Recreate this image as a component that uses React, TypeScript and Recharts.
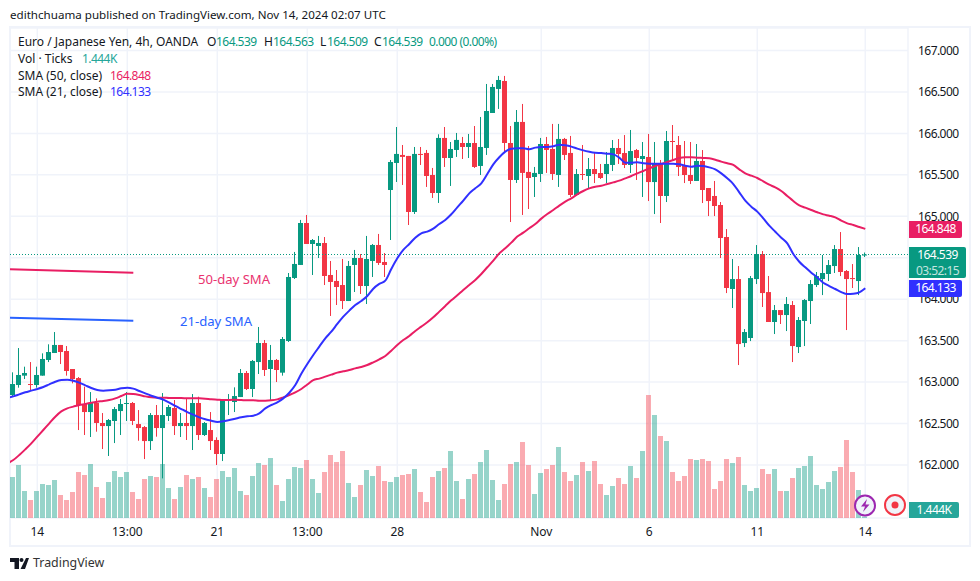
import { Bar, CartesianGrid, ComposedChart, Line, ReferenceLine, XAxis, YAxis } from 'recharts'

const UP = '#089981'
const DOWN = '#f23645'
const SMA50_COLOR = '#e91e63'
const SMA21_COLOR = '#3030ff'
const GRID = '#f0f3fa'
const TEXT = '#131722'
const FONT = '"Noto Sans", sans-serif'
const NUM_SPACING = -0.55

const opens = [
  162.844, 162.965, 163.078, 162.977, 162.965, 163.078, 163.267, 163.351, 163.448, 163.375,
  163.158, 163.049, 162.736, 162.639, 162.748, 162.507, 162.47, 162.531, 162.651, 162.74,
  162.748, 162.494, 162.458, 162.289, 162.603, 162.446, 162.591, 162.688, 162.47, 162.507,
  162.47, 162.748, 162.362, 162.422, 162.302, 162.133, 162.776, 162.76, 162.82, 163.11,
  162.917, 163.242, 163.472, 163.158, 163.267, 163.114, 163.496, 164.256, 164.413, 164.919,
  164.666, 164.642, 164.678, 164.292, 164.22, 164.171, 163.978, 164.413, 164.497, 164.159,
  164.461, 164.654, 164.449, 165.317, 165.643, 165.74, 165.728, 165.052, 165.752, 165.764,
  165.498, 165.281, 165.945, 165.703, 165.8, 165.884, 165.836, 165.884, 165.607, 165.824,
  166.246, 166.536, 166.632, 165.884, 165.438, 166.138, 165.535, 165.474, 165.51, 165.872,
  165.812, 165.498, 165.933, 165.764, 165.257, 165.51, 165.486, 165.57, 165.522, 165.51,
  165.619, 165.824, 165.763, 165.619, 165.799, 165.691, 165.715, 165.413, 165.631, 165.245,
  165.908, 165.86, 165.619, 165.498, 165.426, 165.667, 165.341, 165.245, 165.136, 164.75,
  164.123, 164.243, 163.471, 163.532, 164.243, 164.545, 164.086, 163.725, 163.869, 163.809,
  163.93, 163.423, 163.737, 163.978, 164.171, 164.243, 164.304, 164.4, 164.605, 164.34,
  164.255, 164.219, 164.539,
]
const closes = [
  162.977, 163.086, 163.11, 162.969, 163.086, 163.279, 163.363, 163.448, 163.363, 163.134,
  163.037, 162.724, 162.639, 162.748, 162.507, 162.47, 162.543, 162.675, 162.736, 162.748,
  162.531, 162.446, 162.289, 162.603, 162.446, 162.603, 162.7, 162.47, 162.507, 162.47,
  162.748, 162.362, 162.507, 162.289, 162.133, 162.784, 162.784, 162.832, 163.11, 162.917,
  163.255, 163.472, 163.146, 163.267, 163.146, 163.52, 164.268, 164.425, 164.919, 164.666,
  164.714, 164.678, 164.28, 164.208, 164.147, 163.978, 164.401, 164.497, 164.159, 164.485,
  164.654, 164.437, 164.413, 165.655, 165.752, 165.716, 165.052, 165.752, 165.74, 165.486,
  165.281, 165.945, 165.703, 165.812, 165.921, 165.836, 165.884, 165.595, 165.836, 166.27,
  166.56, 166.644, 165.884, 165.438, 166.138, 165.523, 165.462, 165.523, 165.872, 165.8,
  165.51, 165.933, 165.74, 165.257, 165.51, 165.502, 165.57, 165.51, 165.462, 165.631,
  165.824, 165.751, 165.619, 165.787, 165.703, 165.727, 165.413, 165.631, 165.245, 165.908,
  165.9, 165.594, 165.498, 165.426, 165.667, 165.317, 165.184, 165.124, 164.738, 164.135,
  164.243, 163.459, 163.604, 164.255, 164.545, 164.074, 163.725, 163.869, 163.809, 163.942,
  163.435, 163.749, 163.99, 164.183, 164.279, 164.316, 164.412, 164.605, 164.328, 164.243,
  164.243, 164.533, 164.539,
]
const highs = [
  163.118, 163.411, 163.186, 163.242, 163.186, 163.347, 163.456, 163.604, 163.448, 163.435,
  163.158, 163.061, 162.945, 162.88, 162.804, 162.627, 162.555, 162.7, 162.796, 162.88,
  162.76, 162.663, 162.47, 162.627, 162.724, 162.868, 162.724, 162.784, 162.627, 162.796,
  162.856, 162.824, 162.519, 162.639, 162.334, 162.784, 162.856, 162.937, 163.158, 163.134,
  163.267, 163.665, 163.508, 163.448, 163.279, 163.544, 164.316, 164.57, 164.956, 165.016,
  164.726, 164.763, 164.75, 164.461, 164.352, 164.485, 164.461, 164.594, 164.545, 164.763,
  164.666, 164.787, 164.557, 165.679, 166.077, 165.86, 165.728, 165.836, 165.836, 165.8,
  165.583, 165.989, 166.077, 165.896, 166.005, 165.957, 165.993, 166.089, 166.198, 166.596,
  166.596, 166.693, 166.693, 166.089, 166.282, 166.355, 165.848, 165.595, 165.945, 165.957,
  166.114, 166.114, 165.945, 165.969, 165.57, 165.86, 165.703, 165.775, 165.631, 165.775,
  165.92, 165.932, 165.98, 166.041, 165.812, 165.896, 165.993, 165.896, 165.679, 166.029,
  166.101, 165.968, 165.908, 165.896, 165.872, 165.799, 165.341, 165.426, 165.172, 164.846,
  164.485, 164.4, 163.64, 164.28, 164.653, 164.581, 164.28, 163.93, 163.869, 164.026,
  163.978, 163.785, 164.002, 164.231, 164.328, 164.533, 164.473, 164.653, 164.81, 164.352,
  164.424, 164.629, 164.563,
]
const lows = [
  162.832, 162.933, 163.037, 162.893, 162.933, 163.078, 163.242, 163.351, 163.218, 163.078,
  162.985, 162.422, 162.362, 162.338, 162.402, 162.193, 162.109, 162.265, 162.362, 162.531,
  162.482, 162.293, 162.072, 162.181, 162.342, 161.839, 162.531, 162.362, 162.338, 162.302,
  162.181, 162.302, 162.35, 162.181, 162.0, 162.048, 162.603, 162.639, 162.82, 162.905,
  162.82, 163.098, 163.074, 162.772, 163.001, 163.078, 163.484, 164.244, 164.413, 164.666,
  164.292, 164.497, 164.171, 163.798, 163.93, 163.882, 163.978, 164.087, 164.063, 163.942,
  164.268, 164.413, 164.268, 164.714, 165.414, 165.378, 164.895, 165.028, 165.619, 165.354,
  165.221, 165.161, 165.595, 165.366, 165.716, 165.691, 165.703, 165.583, 165.498, 165.74,
  166.246, 166.295, 165.776, 164.931, 165.402, 165.016, 165.088, 165.233, 165.414, 165.523,
  165.438, 165.354, 165.679, 165.233, 165.245, 165.438, 165.329, 165.401, 165.45, 165.401,
  165.546, 165.631, 165.582, 165.522, 165.438, 165.233, 165.184, 165.027, 164.919, 165.172,
  165.679, 165.486, 165.401, 165.389, 165.426, 165.16, 165.003, 165.003, 164.497, 164.074,
  163.894, 163.206, 163.423, 163.495, 164.183, 163.906, 163.725, 163.58, 163.701, 163.616,
  163.242, 163.351, 163.435, 163.701, 164.147, 164.05, 164.219, 164.316, 164.279, 163.628,
  164.135, 164.05, 164.509,
]
// tick volume in thousands
const volumes = [
  41, 53, 27, 18, 27, 34, 33, 38, 23, 18, 26, 46, 43, 54, 31, 20, 36, 47, 41, 46,
  26, 19, 39, 42, 41, 54, 30, 19, 31, 43, 39, 41, 30, 21, 39, 47, 41, 50, 27, 23,
  42, 55, 53, 60, 33, 17, 39, 51, 50, 58, 39, 25, 46, 63, 56, 67, 35, 21, 33, 48,
  42, 52, 37, 36, 41, 43, 44, 49, 26, 16, 41, 47, 50, 67, 37, 19, 39, 44, 56, 68,
  38, 18, 34, 54, 56, 76, 53, 24, 45, 49, 53, 71, 46, 37, 43, 56, 47, 57, 34, 23,
  32, 40, 34, 52, 40, 67, 123, 103, 82, 77, 46, 37, 42, 59, 58, 59, 57, 29, 37, 59,
  55, 61, 33, 27, 30, 49, 44, 49, 27, 27, 40, 50, 52, 62, 33, 29, 36, 47, 51, 78,
  46, 28, 1.444,
]
const sma50 = [
  162.06, 162.121, 162.189, 162.261, 162.342, 162.422, 162.503, 162.583, 162.647, 162.684,
  162.704, 162.724, 162.736, 162.752, 162.764, 162.772, 162.784, 162.804, 162.832, 162.86,
  162.856, 162.844, 162.828, 162.816, 162.812, 162.812, 162.808, 162.808, 162.808, 162.804,
  162.804, 162.804, 162.8, 162.792, 162.788, 162.784, 162.784, 162.788, 162.784, 162.78,
  162.78, 162.776, 162.776, 162.78, 162.792, 162.816, 162.844, 162.877, 162.917, 162.971,
  163.025, 163.042, 163.066, 163.09, 163.114, 163.13, 163.146, 163.166, 163.182, 163.206,
  163.239, 163.275, 163.315, 163.379, 163.448, 163.508, 163.556, 163.617, 163.669, 163.721,
  163.781, 163.85, 163.918, 163.986, 164.047, 164.111, 164.171, 164.232, 164.304, 164.385,
  164.465, 164.553, 164.614, 164.682, 164.755, 164.803, 164.855, 164.907, 164.972, 165.028,
  165.076, 165.129, 165.177, 165.217, 165.265, 165.305, 165.337, 165.357, 165.369, 165.389,
  165.409, 165.43, 165.458, 165.486, 165.518, 165.546, 165.578, 165.606, 165.631, 165.655,
  165.679, 165.703, 165.711, 165.711, 165.707, 165.703, 165.699, 165.683, 165.659, 165.639,
  165.619, 165.566, 165.518, 165.49, 165.462, 165.422, 165.381, 165.349, 165.305, 165.245,
  165.184, 165.132, 165.104, 165.076, 165.048, 165.023, 165.007, 164.987, 164.947, 164.915,
  164.895, 164.871, 164.848,
]
const sma21 = [
  162.828, 162.852, 162.877, 162.897, 162.917, 162.941, 162.973, 163.005, 163.025, 163.029,
  163.017, 162.993, 162.961, 162.929, 162.905, 162.897, 162.901, 162.909, 162.925, 162.933,
  162.921, 162.893, 162.864, 162.836, 162.812, 162.788, 162.752, 162.712, 162.675, 162.639,
  162.607, 162.575, 162.551, 162.535, 162.519, 162.527, 162.543, 162.559, 162.575, 162.587,
  162.595, 162.623, 162.683, 162.724, 162.756, 162.804, 162.872, 162.965, 163.1, 163.218,
  163.327, 163.428, 163.528, 163.608, 163.701, 163.789, 163.862, 163.93, 163.978, 164.039,
  164.127, 164.184, 164.224, 164.364, 164.493, 164.594, 164.666, 164.742, 164.795, 164.815,
  164.851, 164.907, 164.956, 165.024, 165.108, 165.189, 165.277, 165.338, 165.398, 165.51,
  165.627, 165.712, 165.78, 165.816, 165.82, 165.82, 165.808, 165.828, 165.836, 165.836,
  165.844, 165.864, 165.856, 165.84, 165.816, 165.795, 165.779, 165.767, 165.763, 165.755,
  165.747, 165.707, 165.647, 165.647, 165.651, 165.639, 165.635, 165.635, 165.635, 165.635,
  165.635, 165.627, 165.61, 165.598, 165.61, 165.606, 165.59, 165.566, 165.518, 165.458,
  165.389, 165.289, 165.188, 165.116, 165.056, 164.975, 164.887, 164.814, 164.742, 164.674,
  164.545, 164.452, 164.384, 164.32, 164.263, 164.199, 164.159, 164.123, 164.086, 164.062,
  164.066, 164.083, 164.133,
]
// the averages already run in from the left edge, one bar before the first candle
const sma50Lead = 162.02
const sma21Lead = 162.812

const priceTicks = [162, 162.5, 163, 163.5, 164, 164.5, 165, 165.5, 166, 166.5, 167]
const timeTicks = [4, 19, 34, 49, 64, 88, 106, 124, 142]
const timeLabels = ['14', '13:00', '21', '13:00', '28', 'Nov', '6', '11', '14']

const lastPrice = 164.539
const drawn50 = [164.361, 164.32]
const drawn21 = [163.777, 163.741]

const rows: any[] = [
  { i: -1, sma50: sma50Lead, sma21: sma21Lead },
  ...opens.map((open, i) => ({
    i,
    open,
    close: closes[i],
    high: highs[i],
    low: lows[i],
    range: [lows[i], highs[i]],
    volume: volumes[i],
    sma50: sma50[i],
    sma21: sma21[i],
  })),
]

function Candle(props: any) {
  const { x, y, width, height, payload } = props
  if (!payload || payload.range === undefined) return null
  const color = payload.close >= payload.open ? UP : DOWN
  const perUnit = height / (payload.high - payload.low)
  const cx = Math.round(x + width / 2 - 0.5)
  const bodyTop = y + (payload.high - Math.max(payload.open, payload.close)) * perUnit
  const bodyH = Math.abs(payload.open - payload.close) * perUnit
  return (
    <g>
      <rect x={cx} y={y} width={1} height={height} fill={color} />
      <rect x={cx - 2} y={bodyTop} width={5} height={Math.max(bodyH, 1)} fill={color} />
    </g>
  )
}

function VolumeBar(props: any) {
  const { x, y, width, height, payload } = props
  if (!payload || payload.volume === undefined) return null
  const color = payload.close >= payload.open ? UP : DOWN
  const cx = Math.round(x + width / 2 - 0.5)
  return <rect x={cx - 2} y={y} width={5} height={height} fill={color} opacity={0.42} />
}

function Abs({ left, top, color = TEXT, size = 12, spacing = 0, children }: any) {
  return (
    <div
      style={{
        position: 'absolute',
        left,
        top,
        color,
        fontSize: size,
        letterSpacing: spacing,
        lineHeight: '16px',
        whiteSpace: 'nowrap',
      }}
    >
      {children}
    </div>
  )
}

function Badge({ left, top, width, height, color, children }: any) {
  return (
    <div
      style={{
        position: 'absolute',
        left,
        top,
        width,
        height,
        background: color,
        color: '#fff',
        fontSize: 12,
        letterSpacing: NUM_SPACING,
        lineHeight: '16px',
        textAlign: 'center',
        borderRadius: '0 2px 2px 0',
      }}
    >
      {children}
    </div>
  )
}

export default function App() {
  return (
    <div style={{ position: 'absolute', left: 0, top: 0, width: 980, height: 581, background: '#fff', fontFamily: FONT, overflow: 'hidden' }}>
      <Abs left={10} top={7} size={11.6}>edithchuama published on TradingView.com, Nov 14, 2024 02:07 UTC</Abs>
      <div style={{ position: 'absolute', left: 9, top: 26, width: 958, height: 517, border: `2px solid ${GRID}` }} />

      <div style={{ position: 'absolute', left: 0, top: 0 }}>
        <ComposedChart width={980} height={581} data={rows} margin={{ top: 28, right: 10, bottom: 35, left: 10 }}>
          <CartesianGrid xAxisId="time" yAxisId="price" stroke={GRID} strokeWidth={1.5} />
          <XAxis
            xAxisId="time"
            dataKey="i"
            type="number"
            domain={[-0.55, 149.12]}
            allowDataOverflow
            ticks={timeTicks}
            interval={0}
            height={28}
            tickFormatter={(v: number) => timeLabels[timeTicks.indexOf(v)]}
            tick={{ fontSize: 12, fill: TEXT }}
            tickLine={false}
            axisLine={false}
            tickSize={0}
            tickMargin={9}
          />
          <XAxis xAxisId="vol" dataKey="i" type="number" domain={[-0.55, 149.12]} allowDataOverflow hide />
          <YAxis
            yAxisId="price"
            orientation="right"
            type="number"
            width={62}
            domain={[161.361, 167.271]}
            allowDataOverflow
            ticks={priceTicks}
            interval={0}
            tickFormatter={(v: number) => v.toFixed(3)}
            tick={{ fontSize: 12, fill: TEXT, letterSpacing: NUM_SPACING }}
            tickLine={false}
            axisLine={false}
            tickSize={0}
            tickMargin={10}
          />
          <YAxis yAxisId="volume" type="number" domain={[0, 490]} hide />
          <Bar xAxisId="vol" yAxisId="volume" dataKey="volume" barSize={5} shape={VolumeBar} isAnimationActive={false} />
          <ReferenceLine xAxisId="time" yAxisId="price" y={lastPrice} stroke={UP} strokeDasharray="1 2" />
          <ReferenceLine
            xAxisId="time"
            yAxisId="price"
            segment={[{ x: -0.55, y: drawn50[0] }, { x: 20, y: drawn50[1] }]}
            stroke={SMA50_COLOR}
            strokeWidth={2}
          />
          <ReferenceLine
            xAxisId="time"
            yAxisId="price"
            segment={[{ x: -0.55, y: drawn21[0] }, { x: 20, y: drawn21[1] }]}
            stroke="#2962ff"
            strokeWidth={2}
          />
          <Bar xAxisId="time" yAxisId="price" dataKey="range" barSize={5} shape={Candle} isAnimationActive={false} />
          <Line xAxisId="time" yAxisId="price" dataKey="sma50" type="monotone" stroke={SMA50_COLOR} strokeWidth={2} dot={false} activeDot={false} isAnimationActive={false} />
          <Line xAxisId="time" yAxisId="price" dataKey="sma21" type="monotone" stroke={SMA21_COLOR} strokeWidth={2} dot={false} activeDot={false} isAnimationActive={false} />
        </ComposedChart>
      </div>

      <Abs left={18} top={34}>Euro / Japanese Yen, 4h, OANDA</Abs>
      <Abs left={207} top={34}>O</Abs>
      <Abs left={216} top={34} color={UP} spacing={NUM_SPACING}>164.539</Abs>
      <Abs left={264} top={34}>H</Abs>
      <Abs left={273} top={34} color={UP} spacing={NUM_SPACING}>164.563</Abs>
      <Abs left={320} top={34}>L</Abs>
      <Abs left={327} top={34} color={UP} spacing={NUM_SPACING}>164.509</Abs>
      <Abs left={374} top={34}>C</Abs>
      <Abs left={382} top={34} color={UP} spacing={NUM_SPACING}>164.539</Abs>
      <Abs left={429} top={34} color={UP} spacing={NUM_SPACING}>0.000 (0.00%)</Abs>
      <Abs left={18} top={51}>Vol · Ticks</Abs>
      <Abs left={82} top={51} color="#26a69a" spacing={NUM_SPACING}>1.444K</Abs>
      <Abs left={18} top={68}>SMA (50, close)</Abs>
      <Abs left={110} top={68} color={SMA50_COLOR} spacing={NUM_SPACING}>164.848</Abs>
      <Abs left={18} top={84}>SMA (21, close)</Abs>
      <Abs left={110} top={84} color={SMA21_COLOR} spacing={NUM_SPACING}>164.133</Abs>

      <Abs left={198} top={271} color="#e9336f" size={13.1}>50-day SMA</Abs>
      <Abs left={180} top={313} color="#2962ff" size={13.1}>21-day SMA</Abs>

      <Badge left={909} top={221} width={53} height={17} color={SMA50_COLOR}>164.848</Badge>
      <Badge left={909} top={247} width={57} height={31} color={UP}>
        164.539
        <div style={{ opacity: 0.75 }}>03:52:15</div>
      </Badge>
      <Badge left={909} top={280} width={53} height={17} color={SMA21_COLOR}>164.133</Badge>
      <Badge left={909} top={502} width={50} height={16} color="#26a69a">1.444K</Badge>

      <svg style={{ position: 'absolute', left: 0, top: 0 }} width={980} height={581}>
        <circle cx={865} cy={505.5} r={10} fill="#f0f3fa" stroke="#9c27b0" strokeWidth={2} />
        <path d="M867 499 L861 506.5 H865 L863 512 L869.5 504.5 H865.5 Z" fill="#9c27b0" />
        <circle cx={895} cy={505} r={10} fill="#f0f3fa" stroke={DOWN} strokeWidth={2} />
        <circle cx={895} cy={505} r={3.5} fill={DOWN} />
        <path d="M10 558 H19 V569 H14.5 V562 H10 Z M26 558 L29 558 L25 569 L20.5 569 Z" fill="#131722" />
        <circle cx={21.5} cy={560} r={2} fill="#131722" />
      </svg>
      <Abs left={33} top={555} size={12.4} color="#333">TradingView</Abs>
    </div>
  )
}
